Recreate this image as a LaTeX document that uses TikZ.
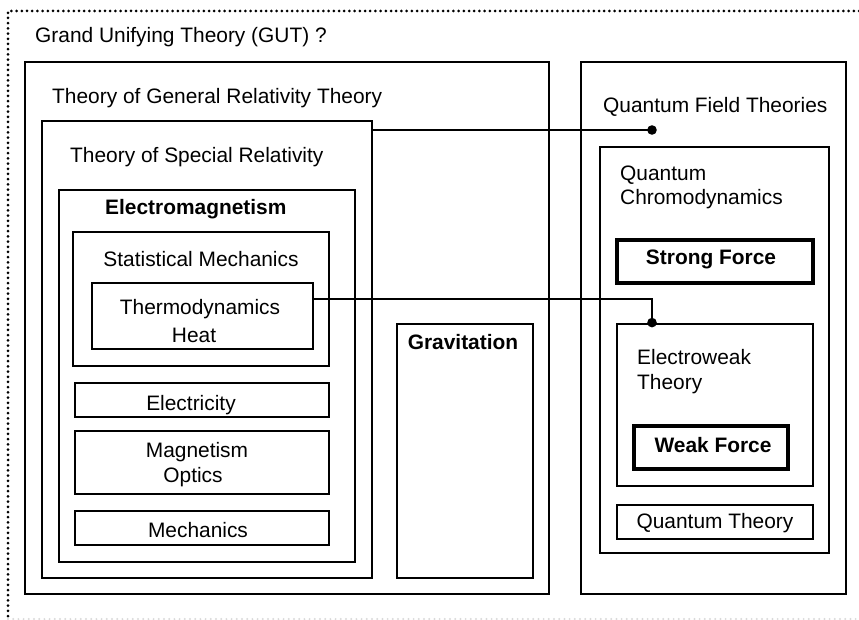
\documentclass[tikz,border=0pt]{standalone}
\usepackage{fontspec}
\setmainfont{Liberation Sans}
\usetikzlibrary{fit}

\begin{document}
\begin{tikzpicture}[
    x=1pt, y=-1pt,
    frame/.style={draw, line width=2.8pt, inner sep=0pt},
    heavy/.style={frame, line width=3.4pt},
    txt/.style={font=\fontsize{20.9}{25}\selectfont, inner sep=0pt, anchor=base west},
    ctxt/.style={txt, anchor=base},
    btxt/.style={txt, font=\fontsize{20.9}{25}\selectfont\bfseries},
    wire/.style={line width=2.8pt},
    dotted border/.style={line width=3pt, line cap=round, dash pattern=on 0pt off 5.2pt},
  ]
  \useasboundingbox (0,0) rectangle (859,620);

  % --- dotted outer border (open on the right) ---
  \draw[dotted border] (859,11) -- (8,11) -- (8,620);
  \draw[dotted border, gray!30, line width=2.2pt] (8,619) -- (859,619);
  \node[txt] (gut) at (35,43) {Grand Unifying Theory (GUT) ?};

  % --- relativity side ---
  \node[frame, fit={(25,62) (549,594)}] (gr) {};
  \node[txt] (grlbl) at (52,104) {Theory of General Relativity Theory};
  \node[frame, fit={(42,121) (372,578)}] (sr) {};
  \node[txt] (srlbl) at (70,163) {Theory of Special Relativity};
  \node[frame, fit={(59,190) (355,562)}] (em) {};
  \node[btxt] (emlbl) at (105,215) {Electromagnetism};

  \node[frame, fit={(73,232) (329,366)}] (stat) {};
  \node[ctxt] (statlbl) at (201,267) {Statistical Mechanics};
  \node[frame, fit={(92,283) (313,349)}] (thermo) {};
  \node[ctxt] (thermolbl) at (200,314) {Thermodynamics};
  \node[ctxt] (heatlbl) at (194,342) {Heat};

  \node[frame, fit={(75,383) (329,417)}] (elec) {};
  \node[ctxt] (eleclbl) at (191,410) {Electricity};
  \node[frame, fit={(75,431) (329,494)}] (magn) {};
  \node[ctxt] (magnlbl) at (197,457) {Magnetism};
  \node[ctxt] (optlbl) at (193,482) {Optics};
  \node[frame, fit={(75,511) (329,545)}] (mech) {};
  \node[ctxt] (mechlbl) at (198,537) {Mechanics};

  \node[frame, fit={(397,324) (533,578)}] (grav) {};
  \node[btxt, anchor=base] (gravlbl) at (463,349) {Gravitation};

  % --- quantum side ---
  \node[frame, fit={(581,62) (846,594)}] (qft) {};
  \node[txt] (qftlbl) at (603,113) {Quantum Field Theories};
  \node[frame, fit={(600,147) (829,553)}] (qcd) {};
  \node[txt] (qcdlblA) at (620,181) {Quantum};
  \node[txt] (qcdlblB) at (620,205) {Chromodynamics};
  \node[heavy, fit={(617,240) (813,283)}] (strong) {};
  \node[btxt, anchor=base] (stronglbl) at (711,265) {Strong Force};

  \node[frame, fit={(617,324) (813,486)}] (ew) {};
  \node[txt] (ewlblA) at (637,364) {Electroweak};
  \node[txt] (ewlblB) at (637,389) {Theory};
  \node[heavy, fit={(634,426) (788,469)}] (weak) {};
  \node[btxt, anchor=base] (weaklbl) at (713,452) {Weak Force};
  \node[frame, fit={(617,505) (813,539)}] (qt) {};
  \node[ctxt] (qtlbl) at (715,528) {Quantum Theory};

  % --- links between the two sides ---
  \coordinate (qftdot) at (652,130);
  \draw[wire] (sr.east |- qftdot) -- (qftdot);
  \fill (qftdot) circle (4.8pt);

  \coordinate (ewbend) at (652,299);
  \coordinate (ewdot) at (ew.north -| ewbend);
  \draw[wire] (thermo.east |- ewbend) -- (ewbend) -- (ewdot);
  \fill (ewdot) circle (4.8pt);
\end{tikzpicture}
\end{document}
